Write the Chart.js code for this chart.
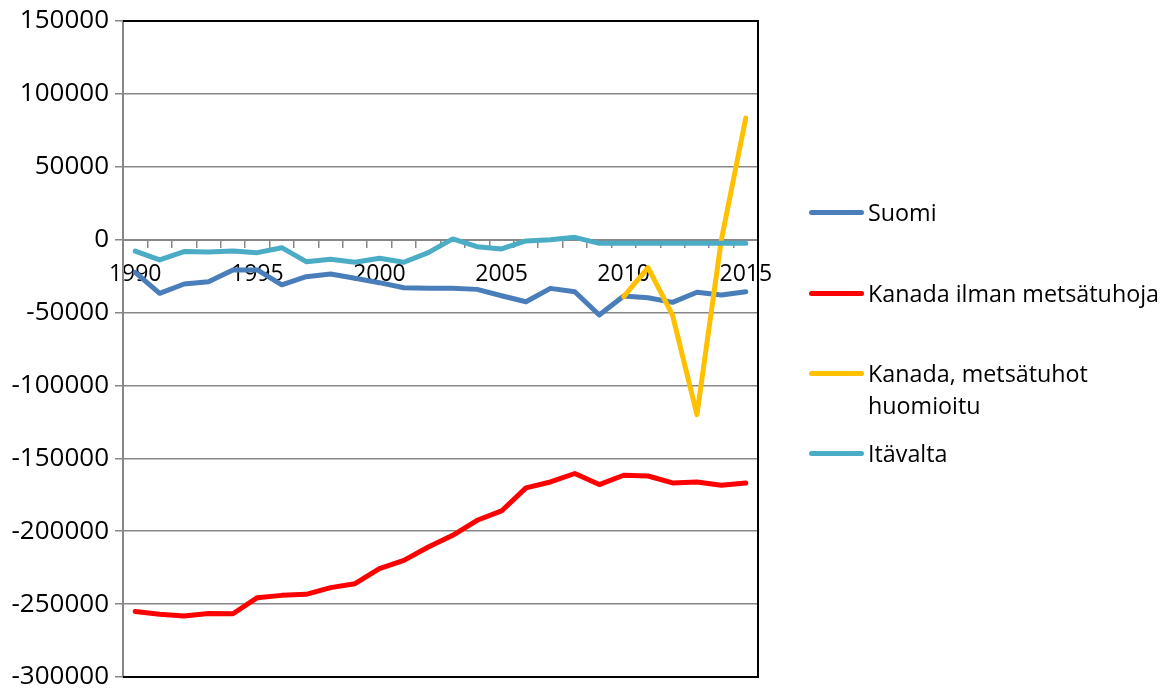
<!DOCTYPE html>
<html>
<head>
<meta charset="utf-8">
<script src="https://cdn.jsdelivr.net/npm/chart.js@4"></script>
<style>
  html, body { margin: 0; padding: 0; background: #ffffff; }
  #wrap { position: relative; width: 1164px; height: 689px; overflow: hidden; }
  #c { position: absolute; left: 0; top: 0; }
  #legend { position: absolute; left: 809px; top: 0; font-family: "Open Sans", sans-serif; font-size: 23.3px; color: #000; }
  .item { position: absolute; left: 0; display: flex; align-items: flex-start; white-space: nowrap; }
  .swatch { width: 55px; height: 5px; border-radius: 3px; margin-right: 4px; flex: none; }
  .txt { line-height: 32px; }
</style>
</head>
<body>
<div id="wrap">
  <canvas id="c" width="1164" height="689"></canvas>
  <div id="legend"></div>
</div>
<script>
const years = [1990,1991,1992,1993,1994,1995,1996,1997,1998,1999,2000,2001,2002,2003,2004,2005,2006,2007,2008,2009,2010,2011,2012,2013,2014,2015];
const seriesNames = ["Suomi", "Kanada ilman metsätuhoja", "Kanada, metsätuhot huomioitu", "Itävalta"];
const suomi = [-22500,-36800,-30400,-28800,-20800,-20800,-31000,-25400,-23600,-26500,-29500,-33000,-33400,-33400,-34100,-38500,-42600,-33400,-35700,-51700,-38700,-39800,-43000,-36100,-38000,-35700];
const kanadaIlman = [-255000,-257000,-258200,-256400,-256600,-245600,-244000,-243300,-238700,-236000,-225700,-220000,-210800,-202800,-192500,-186100,-170300,-166200,-160400,-168000,-161600,-162100,-166900,-166200,-168500,-166900];
const kanadaMetsatuhot = [null,null,null,null,null,null,null,null,null,null,null,null,null,null,null,null,null,null,null,null,-39000,-19200,-51700,-120000,0,83400];
const itavalta = [-7800,-13900,-8200,-8500,-7800,-8900,-5500,-15100,-13500,-15500,-12800,-15500,-8900,500,-4800,-6400,-900,0,1600,-2500,-2500,-2500,-2500,-2500,-2500,-2500];
const yTicks = [150000,100000,50000,0,-50000,-100000,-150000,-200000,-250000,-300000];
const colors = ["#4a7ebb", "#ff0000", "#ffc000", "#4bacc6"];

const seriesData = [suomi, kanadaIlman, kanadaMetsatuhot, itavalta];
const legendLines = [["Suomi"], ["Kanada ilman metsätuhoja"], ["Kanada, metsätuhot", "huomioitu"], ["Itävalta"]];
const legendTops = [196, 277, 357, 437];

const FONT = "Open Sans";
const GRID = "#878787";

const borderPlugin = {
  id: 'plotBorder',
  beforeDatasetsDraw(chart) {
    const a = chart.chartArea, ctx = chart.ctx;
    ctx.save();
    ctx.strokeStyle = '#000000';
    ctx.lineWidth = 2;
    ctx.beginPath();
    ctx.moveTo(a.left, a.top);
    ctx.lineTo(a.right, a.top);
    ctx.lineTo(a.right, a.bottom);
    ctx.lineTo(a.left, a.bottom);
    ctx.stroke();
    ctx.restore();
  }
};

new Chart(document.getElementById('c'), {
  type: 'line',
  data: {
    labels: years.map(String),
    datasets: seriesData.map((d, i) => ({
      label: seriesNames[i],
      data: d,
      borderColor: colors[i],
      backgroundColor: colors[i],
      borderWidth: 5,
      pointRadius: 0,
      tension: 0,
      spanGaps: false,
      borderCapStyle: 'round',
      borderJoinStyle: 'round',
      order: 3 - i
    }))
  },
  options: {
    responsive: false,
    animation: false,
    devicePixelRatio: 1,
    layout: { padding: { top: 21, right: 406, bottom: 12, left: 0 } },
    plugins: { legend: { display: false }, tooltip: { enabled: false } },
    scales: {
      x: {
        type: 'category',
        position: { y: 0 },
        offset: true,
        afterFit: s => { s.paddingLeft = 0; s.paddingRight = 0; s.paddingTop = 0; s.paddingBottom = 0; },
        grid: { offset: true, drawOnChartArea: false, drawTicks: true, tickLength: 7, color: GRID, lineWidth: 1.5 },
        border: { display: true, color: GRID, width: 2 },
        ticks: {
          autoSkip: false, maxRotation: 0, minRotation: 0, padding: 14,
          color: '#000', font: { family: FONT, size: 23 },
          callback: function(v, i) { const y = years[i]; return y % 5 === 0 ? String(y) : ''; }
        }
      },
      y: {
        min: -300000, max: 150000,
        afterBuildTicks: s => { s.ticks = yTicks.map(v => ({ value: v })); },
        afterFit: s => { s.width = 123; s.paddingTop = 0; s.paddingBottom = 0; },
        grid: { color: GRID, lineWidth: 1.5, tickLength: 8, drawTicks: true },
        border: { display: true, color: GRID, width: 2 },
        ticks: { padding: 6, color: '#000', font: { family: FONT, size: 26 }, callback: v => String(v) }
      }
    }
  },
  plugins: [borderPlugin]
});

const leg = document.getElementById('legend');
seriesNames.forEach((n, i) => {
  const it = document.createElement('div');
  it.className = 'item';
  it.style.top = legendTops[i] + 'px';
  const sw = document.createElement('div');
  sw.className = 'swatch';
  sw.style.background = colors[i];
  sw.style.marginTop = '14px';
  const tx = document.createElement('div');
  tx.className = 'txt';
  tx.innerHTML = legendLines[i].join('<br>');
  it.appendChild(sw); it.appendChild(tx);
  leg.appendChild(it);
});
</script>
</body>
</html>
